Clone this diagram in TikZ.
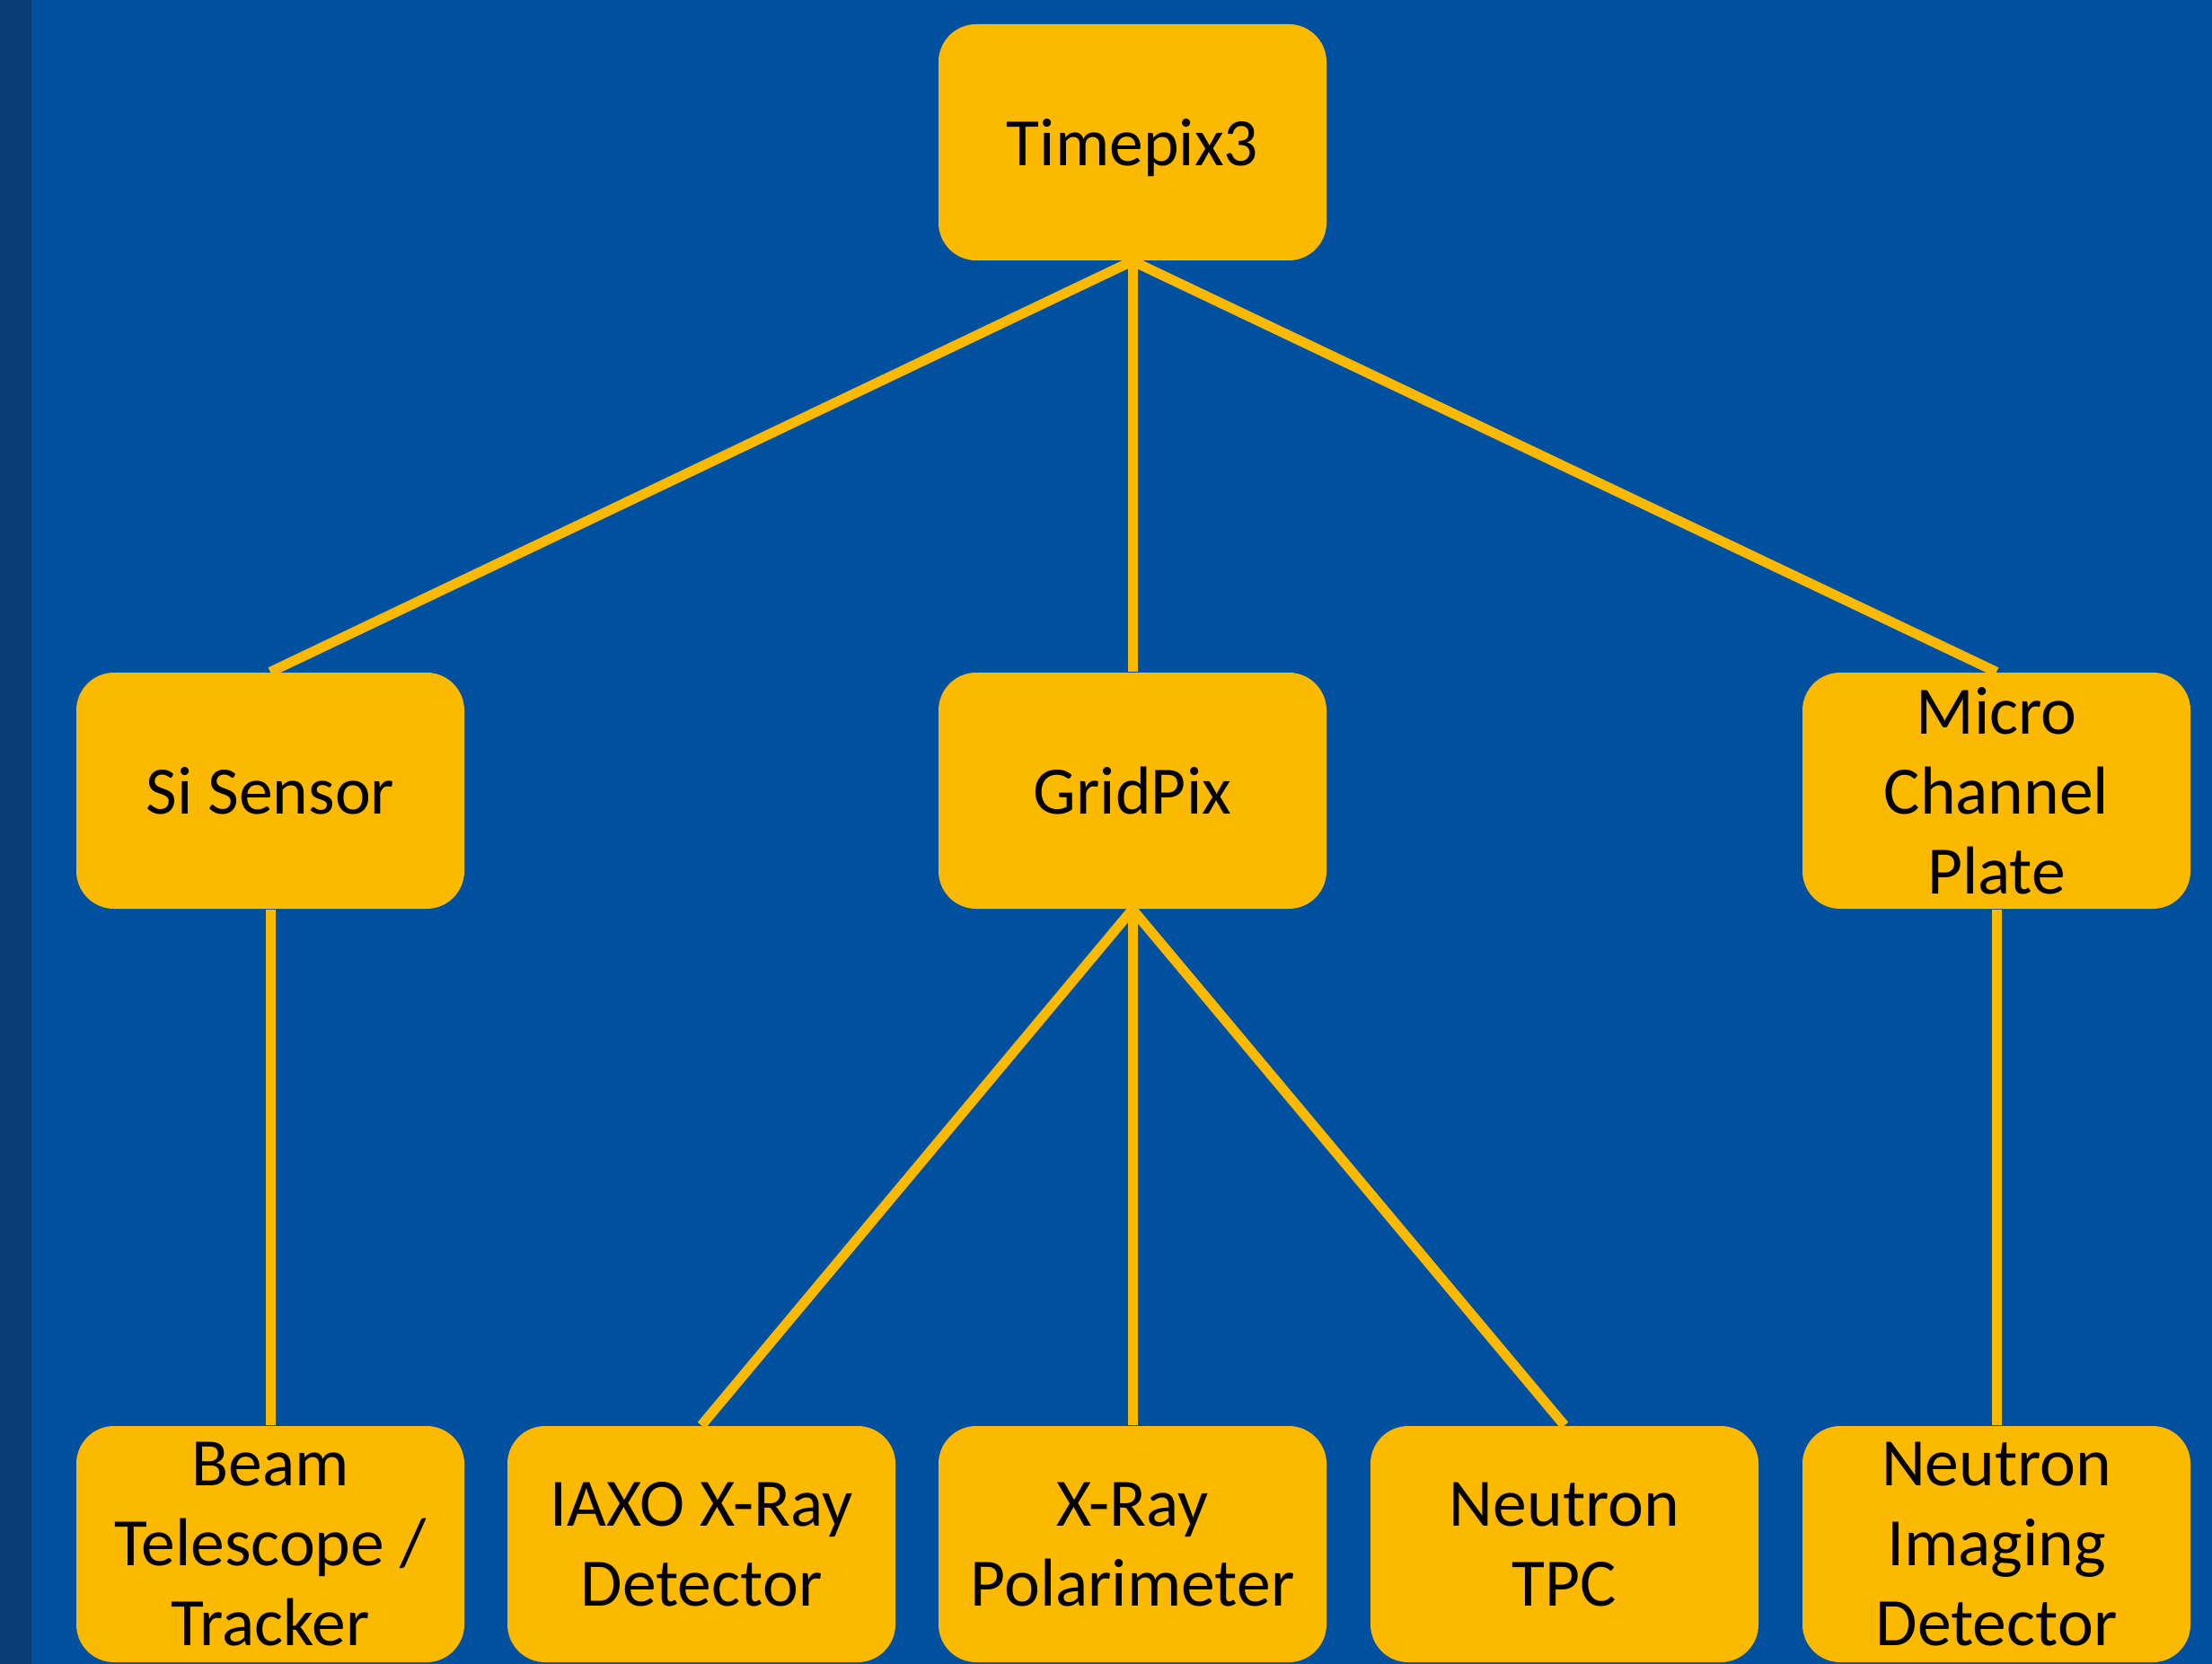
\documentclass[tikz,border=0pt]{standalone}
\usepackage{fontspec}
\setmainfont{Carlito}
\usepackage{xcolor}
\usepackage{tikz}
\usetikzlibrary{calc}
\definecolor{slideblue}{RGB}{0,80,160}
\definecolor{stripblue}{RGB}{8,60,115}
\definecolor{boxorange}{RGB}{251,185,0}

\begin{document}
\begin{tikzpicture}[box/.style={fill=boxorange, rounded corners=0.42cm, minimum width=4.32cm, minimum height=2.63cm, inner sep=0pt, align=center, text depth=0pt, font=\fontsize{21.5}{25.3}\selectfont}, link/.style={draw=boxorange, line width=0.11cm}]
	\useasboundingbox (0, 0) rectangle (24.63, 18.52);
	\fill[slideblue] (-0.1, -0.1) rectangle (24.73, 18.62);
	\fill[stripblue] (-0.1, -0.1) rectangle (0.35, 18.62);
	\node[box] (Timepix) at (12.61, 16.935) {Timepix3};
	\node[box] (SiSensor) at (3.01, 9.715) {Si Sensor};
	\node[box] (GridPix) at (12.61, 9.715) {GridPix};
	\node[box] (MCP) at (22.23, 9.715) {Micro\\Channel\\Plate};
	\node[box] (Beam) at (3.01, 1.325) {Beam\\Telescope /\\Tracker};
	\node[box] (IAXO) at (7.81, 1.325) {IAXO X-Ray\\Detector};
	\node[box] (Polarimeter) at (12.61, 1.325) {X-Ray\\Polarimeter};
	\node[box] (NeutronTPC) at (17.42, 1.325) {Neutron\\TPC};
	\node[box] (NeutronImg) at (22.23, 1.325) {Neutron\\Imaging\\Detector};
	\draw[link] (Timepix.south) -- (SiSensor.north);
	\draw[link] (Timepix.south) -- (GridPix.north);
	\draw[link] (Timepix.south) -- (MCP.north);
	\draw[link] (SiSensor.south) -- (Beam.north);
	\draw[link] (GridPix.south) -- (IAXO.north);
	\draw[link] (GridPix.south) -- (Polarimeter.north);
	\draw[link] (GridPix.south) -- (NeutronTPC.north);
	\draw[link] (MCP.south) -- (NeutronImg.north);
\end{tikzpicture}
\end{document}
